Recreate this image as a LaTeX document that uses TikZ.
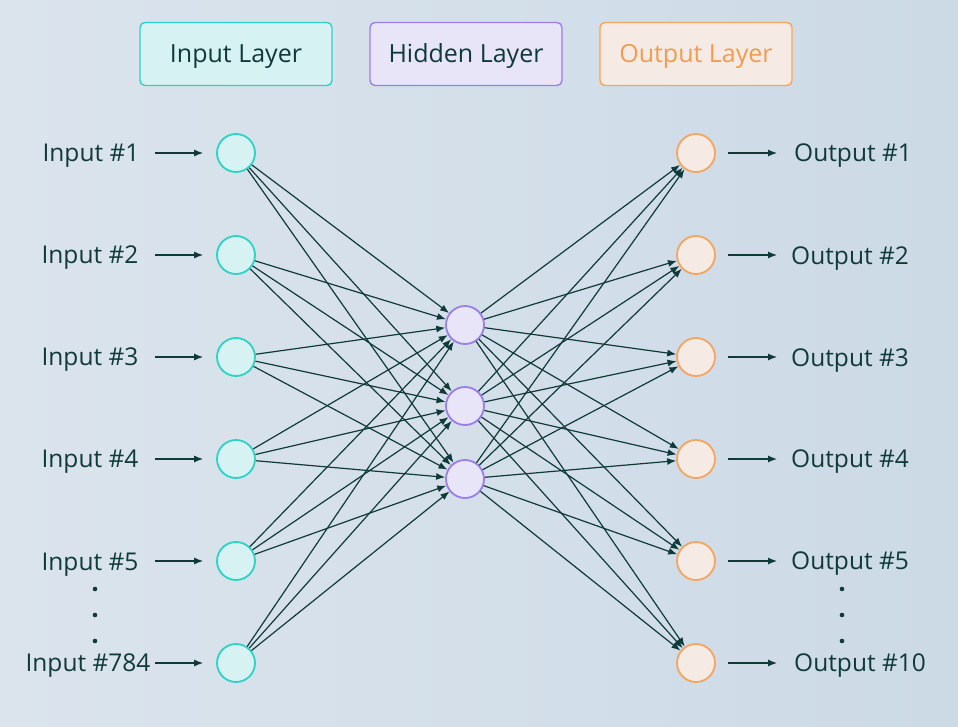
\documentclass[tikz,border=0pt]{standalone}
\usepackage{fontspec}
\setmainfont{Open Sans}
\usetikzlibrary{arrows.meta}
\definecolor{inkdark}{RGB}{16,58,58}
\definecolor{inline}{RGB}{45,212,196}
\definecolor{infill}{RGB}{215,242,242}
\definecolor{hidline}{RGB}{155,126,232}
\definecolor{hidfill}{RGB}{231,229,247}
\definecolor{outline}{RGB}{245,165,94}
\definecolor{outfill}{RGB}{245,235,228}
\definecolor{outtext}{RGB}{243,156,79}
\definecolor{bgleft}{RGB}{219,228,237}
\definecolor{bgright}{RGB}{204,218,230}
\begin{document}
\begin{tikzpicture}[x=1pt,y=-1pt,
  >={Latex[length=9pt,width=7pt]},
  neuron/.style={circle,minimum size=38pt,inner sep=0pt,line width=1.8pt},
  legendbox/.style={rectangle,rounded corners=5pt,minimum width=192pt,minimum height=63pt,line width=1.4pt,
    font=\fontsize{25}{30}\selectfont,text height=17.8pt,text depth=0pt},
  lbl/.style={text=inkdark,font=\fontsize{24.5}{29}\selectfont,inner sep=0pt,text height=17.5pt,text depth=0pt},
  wire/.style={->,inkdark,line width=1.2pt}]
% background
\shade[left color=bgleft,right color=bgright] (0,0) rectangle (958,727);
% legend
\node[legendbox,draw=inline,fill=infill,text=inkdark] (kin) at (236,54) {Input Layer};
\node[legendbox,draw=hidline,fill=hidfill,text=inkdark] (khid) at (466,54) {Hidden Layer};
\node[legendbox,draw=outline,fill=outfill,text=outtext] (kout) at (696,54) {Output Layer};
% input layer
\node[neuron,draw=inline,fill=infill] (i1) at (236,153) {};
\node[neuron,draw=inline,fill=infill] (i2) at (236,255) {};
\node[neuron,draw=inline,fill=infill] (i3) at (236,357) {};
\node[neuron,draw=inline,fill=infill] (i4) at (236,459) {};
\node[neuron,draw=inline,fill=infill] (i5) at (236,561) {};
\node[neuron,draw=inline,fill=infill] (i6) at (236,663) {};
\node[lbl] (li1) at (91,153) {Input \#1};
\node[lbl] (li2) at (90,255) {Input \#2};
\node[lbl] (li3) at (90,357) {Input \#3};
\node[lbl] (li4) at (90,459) {Input \#4};
\node[lbl] (li5) at (90,562) {Input \#5};
\node[lbl] (li6) at (88,663) {Input \#784};
\coordinate (ai1) at (155,153);
\coordinate (ai2) at (155,255);
\coordinate (ai3) at (155,357);
\coordinate (ai4) at (155,459);
\coordinate (ai5) at (155,561);
\coordinate (ai6) at (155,663);
\draw[wire,shorten >=13pt] (ai1) -- (i1);
\draw[wire,shorten >=13pt] (ai2) -- (i2);
\draw[wire,shorten >=13pt] (ai3) -- (i3);
\draw[wire,shorten >=13pt] (ai4) -- (i4);
\draw[wire,shorten >=13pt] (ai5) -- (i5);
\draw[wire,shorten >=13pt] (ai6) -- (i6);
\fill[inkdark] (95,589) circle (2.3);
\fill[inkdark] (95,615) circle (2.3);
\fill[inkdark] (95,641) circle (2.3);
% hidden layer
\node[neuron,draw=hidline,fill=hidfill] (h1) at (465,325) {};
\node[neuron,draw=hidline,fill=hidfill] (h2) at (465,406) {};
\node[neuron,draw=hidline,fill=hidfill] (h3) at (465,479) {};
% output layer
\node[neuron,draw=outline,fill=outfill] (o1) at (696,153) {};
\node[neuron,draw=outline,fill=outfill] (o2) at (696,255) {};
\node[neuron,draw=outline,fill=outfill] (o3) at (696,357) {};
\node[neuron,draw=outline,fill=outfill] (o4) at (696,459) {};
\node[neuron,draw=outline,fill=outfill] (o5) at (696,561) {};
\node[neuron,draw=outline,fill=outfill] (o6) at (696,663) {};
\node[lbl,anchor=west] (lo1) at (794,153) {Output \#1};
\node[lbl,anchor=west] (lo2) at (791,256) {Output \#2};
\node[lbl,anchor=west] (lo3) at (791,358) {Output \#3};
\node[lbl,anchor=west] (lo4) at (791,459) {Output \#4};
\node[lbl,anchor=west] (lo5) at (791,561) {Output \#5};
\node[lbl,anchor=west] (lo6) at (794,663) {Output \#10};
\coordinate (ao1) at (777,153);
\coordinate (ao2) at (777,255);
\coordinate (ao3) at (777,357);
\coordinate (ao4) at (777,459);
\coordinate (ao5) at (777,561);
\coordinate (ao6) at (777,663);
\draw[wire,shorten <=12pt] (o1) -- (ao1);
\draw[wire,shorten <=12pt] (o2) -- (ao2);
\draw[wire,shorten <=12pt] (o3) -- (ao3);
\draw[wire,shorten <=12pt] (o4) -- (ao4);
\draw[wire,shorten <=12pt] (o5) -- (ao5);
\draw[wire,shorten <=12pt] (o6) -- (ao6);
\fill[inkdark] (842,589) circle (2.3);
\fill[inkdark] (842,615) circle (2.3);
\fill[inkdark] (842,641) circle (2.3);
% input to hidden
\draw[wire] (i1) -- (h1);
\draw[wire] (i1) -- (h2);
\draw[wire] (i1) -- (h3);
\draw[wire] (i2) -- (h1);
\draw[wire] (i2) -- (h2);
\draw[wire] (i2) -- (h3);
\draw[wire] (i3) -- (h1);
\draw[wire] (i3) -- (h2);
\draw[wire] (i3) -- (h3);
\draw[wire] (i4) -- (h1);
\draw[wire] (i4) -- (h2);
\draw[wire] (i4) -- (h3);
\draw[wire] (i5) -- (h1);
\draw[wire] (i5) -- (h2);
\draw[wire] (i5) -- (h3);
\draw[wire] (i6) -- (h1);
\draw[wire] (i6) -- (h2);
\draw[wire] (i6) -- (h3);
% hidden to output
\draw[wire] (h1) -- (o1);
\draw[wire] (h1) -- (o2);
\draw[wire] (h1) -- (o3);
\draw[wire] (h1) -- (o4);
\draw[wire] (h1) -- (o5);
\draw[wire] (h1) -- (o6);
\draw[wire] (h2) -- (o1);
\draw[wire] (h2) -- (o2);
\draw[wire] (h2) -- (o3);
\draw[wire] (h2) -- (o4);
\draw[wire] (h2) -- (o5);
\draw[wire] (h2) -- (o6);
\draw[wire] (h3) -- (o1);
\draw[wire] (h3) -- (o2);
\draw[wire] (h3) -- (o3);
\draw[wire] (h3) -- (o4);
\draw[wire] (h3) -- (o5);
\draw[wire] (h3) -- (o6);
\end{tikzpicture}
\end{document}
